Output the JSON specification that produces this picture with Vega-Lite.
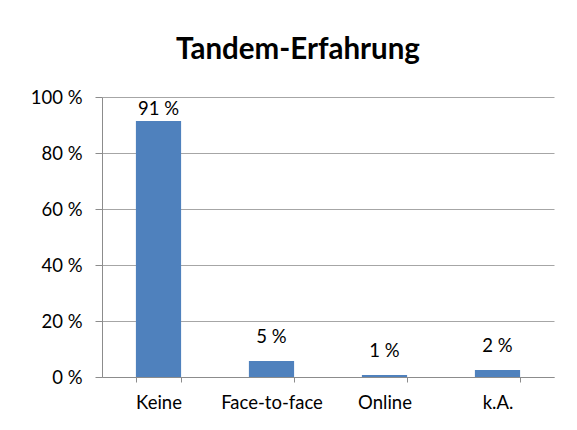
{
  "$schema": "https://vega.github.io/schema/vega-lite/v6.json",
  "autosize": "none",
  "width": 452,
  "height": 280,
  "padding": {"left": 102, "top": 97, "right": 23, "bottom": 53},
  "background": "white",
  "title": {
    "text": "Tandem-Erfahrung",
    "font": "Lato",
    "fontSize": 29.5,
    "fontWeight": "bold",
    "color": "black",
    "anchor": "middle",
    "dx": -30,
    "offset": 23
  },
  "data": {
    "values": [
      {"kategorie": "Keine", "anteil": 91.4, "beschriftung": "91 %"},
      {"kategorie": "Face-to-face", "anteil": 5.7, "beschriftung": "5 %"},
      {"kategorie": "Online", "anteil": 0.7, "beschriftung": "1 %"},
      {"kategorie": "k.A.", "anteil": 2.5, "beschriftung": "2 %"}
    ]
  },
  "encoding": {
    "x": {
      "field": "kategorie",
      "type": "nominal",
      "sort": null,
      "scale": {"paddingInner": 0.6, "paddingOuter": 0.3},
      "axis": {
        "title": null,
        "labelAngle": 0,
        "labelFont": "Lato",
        "labelFontSize": 18.5,
        "labelColor": "black",
        "labelPadding": 11,
        "domainColor": "#8c8c8c",
        "tickColor": "#8c8c8c",
        "tickSize": 5,
        "tickBand": "extent",
        "grid": false
      }
    },
    "y": {
      "field": "anteil",
      "type": "quantitative",
      "scale": {"domain": [0, 100], "nice": false},
      "axis": {
        "title": null,
        "values": [0, 20, 40, 60, 80, 100],
        "labelExpr": "datum.value + ' %'",
        "labelFont": "Lato",
        "labelFontSize": 18.5,
        "labelColor": "black",
        "labelPadding": 13,
        "domainColor": "#8c8c8c",
        "tickColor": "#8c8c8c",
        "tickSize": 7,
        "gridColor": "#a6a6a6",
        "grid": true
      }
    }
  },
  "layer": [
    {"mark": {"type": "bar", "color": "#4f81bd"}},
    {
      "transform": [{"filter": "datum.anteil < 50"}],
      "mark": {"type": "text", "font": "Lato", "fontSize": 18.5, "color": "black", "baseline": "alphabetic", "dy": -18},
      "encoding": {"text": {"field": "beschriftung"}}
    },
    {
      "transform": [{"filter": "datum.anteil >= 50"}],
      "mark": {"type": "text", "font": "Lato", "fontSize": 18.5, "color": "black", "baseline": "alphabetic", "dy": -6},
      "encoding": {"text": {"field": "beschriftung"}}
    }
  ],
  "config": {"view": {"stroke": null}}
}
